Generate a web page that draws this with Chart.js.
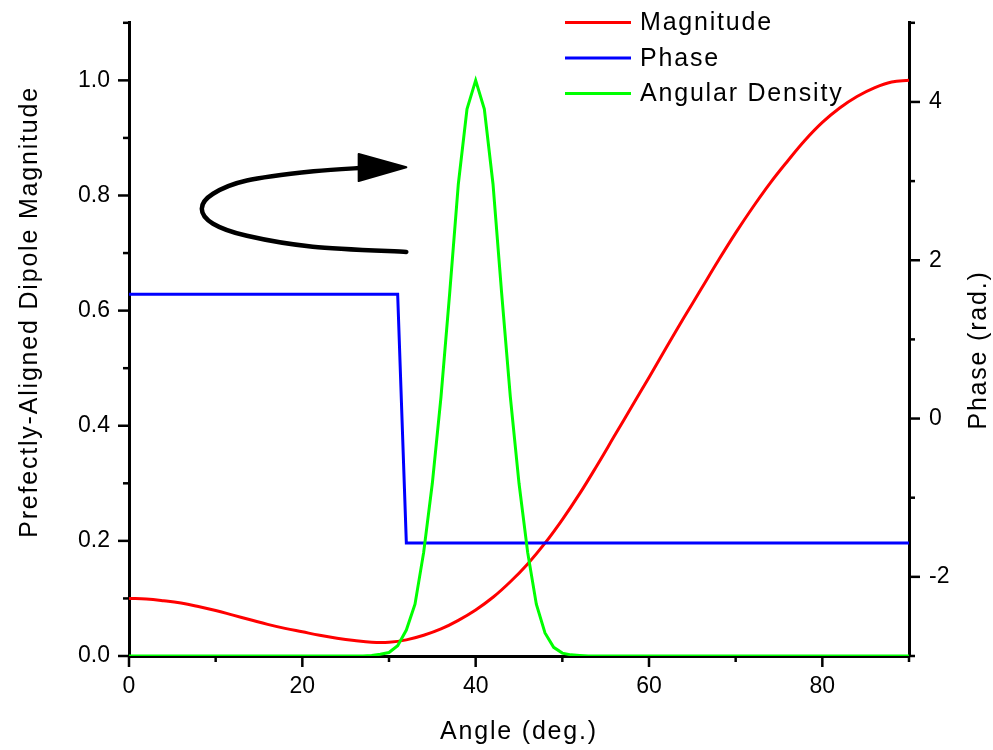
<!DOCTYPE html>
<html>
<head>
<meta charset="utf-8">
<script src="https://cdn.jsdelivr.net/npm/chart.js@4.4.0/dist/chart.umd.min.js"></script>
<style>
  body { margin: 0; background: #fff; }
  #wrap { width: 993px; height: 750px; }
</style>
</head>
<body>
<div id="wrap"><canvas id="dipoleChart" width="993" height="750"></canvas></div>
<script>
// values
const magAngles = [0, 2, 4, 6, 8, 10, 12, 14, 16, 18, 20, 22, 24, 26, 28, 30, 32, 34, 36, 38, 40,
  42, 44, 46, 48, 50, 52, 54, 56, 58, 60, 62, 64, 66, 68, 70, 72, 74, 76, 78, 80, 82, 84, 86, 88, 90];
const magValues = [0.100, 0.099, 0.096, 0.092, 0.086, 0.079, 0.071, 0.063, 0.055, 0.048, 0.042,
  0.036, 0.031, 0.027, 0.024, 0.024, 0.028, 0.036, 0.047, 0.062, 0.080, 0.102, 0.129, 0.160,
  0.196, 0.237, 0.282, 0.331, 0.382, 0.433, 0.484, 0.536, 0.587, 0.637, 0.687, 0.735, 0.780,
  0.822, 0.860, 0.896, 0.927, 0.952, 0.972, 0.987, 0.997, 1.0];

const phaseAngles = [0, 31, 32, 90];
const phaseValues = [1.5708, 1.5708, -1.5708, -1.5708];

const densityAngles = [0, 27, 28, 29, 30, 31, 32, 33, 34, 35, 36, 37, 38, 39, 40, 41, 42, 43,
  44, 45, 46, 47, 48, 49, 50, 51, 52, 53, 90];
const densityValues = [0, 0, 0.001, 0.003, 0.006, 0.018, 0.045, 0.09, 0.18, 0.30, 0.45, 0.63,
  0.82, 0.95, 1.0, 0.95, 0.82, 0.63, 0.45, 0.30, 0.18, 0.09, 0.04, 0.015, 0.005, 0.002, 0.001, 0, 0];

const seriesNames = ['Magnitude', 'Phase', 'Angular Density'];
const seriesColors = ['#ff0000', '#0000ff', '#00ff00'];

const xTicks = [0, 10, 20, 30, 40, 50, 60, 70, 80, 90];
const xTickLabels = ['0', '', '20', '', '40', '', '60', '', '80', ''];
const yTicks = [0, 0.1, 0.2, 0.3, 0.4, 0.5, 0.6, 0.7, 0.8, 0.9, 1.0, 1.1];
const yTickLabels = ['0.0', '', '0.2', '', '0.4', '', '0.6', '', '0.8', '', '1.0', ''];
const y1Ticks = [-3, -2, -1, 0, 1, 2, 3, 4, 5];
const y1TickLabels = ['', '-2', '', '0', '', '2', '', '4', ''];

const xTitle = 'Angle (deg.)';
const yTitle = 'Prefectly-Aligned Dipole Magnitude';
const y1Title = 'Phase (rad.)';

// the curved arrow annotation, in (angle, magnitude) units
const arrowBody = [[32.0, 0.702], [21.2, 0.711], [13.6, 0.730], [9.7, 0.751], [8.4, 0.777],
  [9.7, 0.803], [13.6, 0.826], [21.3, 0.842], [27.0, 0.848]];
const arrowHead = [[26.5, 0.872], [32.0, 0.849], [26.5, 0.825]];

const FONT = '"Liberation Sans", Arial, Helvetica, sans-serif';

function toPoints(xs, ys) {
  return xs.map((x, i) => ({ x: x, y: ys[i] }));
}

function drawTicks(ctx, scale, labels, side, area) {
  scale.ticks.forEach((t, i) => {
    const p = scale.getPixelForValue(t.value);
    const len = labels[i] ? 11 : 6;
    ctx.beginPath();
    if (side === 'bottom') { ctx.moveTo(p, area.bottom); ctx.lineTo(p, area.bottom + len); }
    if (side === 'left') { ctx.moveTo(area.left, p); ctx.lineTo(area.left - len, p); }
    if (side === 'right') { ctx.moveTo(area.right, p); ctx.lineTo(area.right + len, p); }
    ctx.stroke();
  });
}

const decorations = {
  id: 'decorations',
  afterDraw(chart) {
    const ctx = chart.ctx;
    const area = chart.chartArea;
    const sx = chart.scales.x, sy = chart.scales.y, sy1 = chart.scales.y1;

    ctx.save();
    ctx.strokeStyle = '#000';
    ctx.lineWidth = 2.5;
    drawTicks(ctx, sx, xTickLabels, 'bottom', area);
    drawTicks(ctx, sy, yTickLabels, 'left', area);
    drawTicks(ctx, sy1, y1TickLabels, 'right', area);

    // arrow
    const pts = arrowBody.map(p => ({ x: sx.getPixelForValue(p[0]), y: sy.getPixelForValue(p[1]) }));
    ctx.lineWidth = 4.5;
    ctx.lineCap = 'round';
    ctx.beginPath();
    ctx.moveTo(pts[0].x, pts[0].y);
    for (let i = 0; i < pts.length - 1; i++) {
      const p0 = pts[i - 1] || pts[i], p1 = pts[i], p2 = pts[i + 1], p3 = pts[i + 2] || p2;
      ctx.bezierCurveTo(p1.x + (p2.x - p0.x) / 6, p1.y + (p2.y - p0.y) / 6,
        p2.x - (p3.x - p1.x) / 6, p2.y - (p3.y - p1.y) / 6, p2.x, p2.y);
    }
    ctx.stroke();
    ctx.beginPath();
    arrowHead.forEach((p, i) => {
      const x = sx.getPixelForValue(p[0]), y = sy.getPixelForValue(p[1]);
      if (i === 0) ctx.moveTo(x, y); else ctx.lineTo(x, y);
    });
    ctx.closePath();
    ctx.fillStyle = '#000';
    ctx.lineJoin = 'round';
    ctx.lineWidth = 2;
    ctx.fill();
    ctx.stroke();

    // axis titles
    ctx.fillStyle = '#000';
    ctx.font = '25px ' + FONT;
    ctx.letterSpacing = '1.8px';
    ctx.textAlign = 'center';
    ctx.textBaseline = 'alphabetic';
    ctx.fillText(xTitle, (area.left + area.right) / 2, 739);

    ctx.save();
    ctx.translate(37, 312);
    ctx.rotate(-Math.PI / 2);
    ctx.fillText(yTitle, 0, 0);
    ctx.restore();

    ctx.save();
    ctx.translate(986, 350);
    ctx.rotate(-Math.PI / 2);
    ctx.fillText(y1Title, 0, 0);
    ctx.restore();

    // legend
    ctx.textAlign = 'left';
    ctx.textBaseline = 'middle';
    seriesNames.forEach((name, i) => {
      const y = 22.5 + i * 35.5;
      ctx.strokeStyle = seriesColors[i];
      ctx.lineWidth = 3;
      ctx.lineCap = 'butt';
      ctx.beginPath();
      ctx.moveTo(565, y);
      ctx.lineTo(631, y);
      ctx.stroke();
      ctx.fillText(name, 640, y + 1);
    });
    ctx.restore();
  }
};

function axisGrid() {
  return { display: true, drawOnChartArea: false, drawTicks: true, tickLength: 11, tickColor: 'transparent' };
}

const ctx = document.getElementById('dipoleChart').getContext('2d');
const chart = new Chart(ctx, {
  type: 'line',
  data: {
    datasets: [{
      label: seriesNames[0],
      data: toPoints(magAngles, magValues),
      yAxisID: 'y',
      borderColor: seriesColors[0],
      borderWidth: 3,
      tension: 0.4,
      order: 3
    }, {
      label: seriesNames[1],
      data: toPoints(phaseAngles, phaseValues),
      yAxisID: 'y1',
      borderColor: seriesColors[1],
      borderWidth: 3,
      tension: 0,
      order: 2
    }, {
      label: seriesNames[2],
      data: toPoints(densityAngles, densityValues),
      yAxisID: 'y',
      borderColor: seriesColors[2],
      borderWidth: 3,
      tension: 0,
      order: 1
    }]
  },
  options: {
    responsive: false,
    animation: false,
    events: [],
    layout: { padding: { top: 22, left: 0, right: 0, bottom: 0 } },
    elements: { point: { radius: 0 } },
    plugins: { legend: { display: false }, tooltip: { enabled: false } },
    scales: {
      x: {
        type: 'linear',
        min: 0,
        max: 90,
        afterBuildTicks: s => { s.ticks = xTicks.map(v => ({ value: v })); },
        afterFit: s => { s.height = 94; },
        grid: axisGrid(),
        border: { display: true, color: '#000', width: 3 },
        ticks: {
          callback: (v, i) => xTickLabels[i],
          autoSkip: false,
          maxRotation: 0,
          padding: 6,
          color: '#000',
          font: { family: FONT, size: 23 }
        }
      },
      y: {
        position: 'left',
        min: 0,
        max: 1.1,
        afterBuildTicks: s => { s.ticks = yTicks.map(v => ({ value: v })); },
        afterFit: s => { s.width = 129; },
        grid: axisGrid(),
        border: { display: true, color: '#000', width: 3 },
        ticks: {
          callback: (v, i) => yTickLabels[i],
          autoSkip: false,
          padding: 8,
          color: '#000',
          font: { family: FONT, size: 23 }
        }
      },
      y1: {
        position: 'right',
        min: -3,
        max: 5,
        afterBuildTicks: s => { s.ticks = y1Ticks.map(v => ({ value: v })); },
        afterFit: s => { s.width = 84; },
        grid: axisGrid(),
        border: { display: true, color: '#000', width: 3 },
        ticks: {
          callback: (v, i) => y1TickLabels[i],
          autoSkip: false,
          padding: 9,
          color: '#000',
          font: { family: FONT, size: 23 }
        }
      }
    }
  },
  plugins: [decorations]
});
</script>
</body>
</html>
